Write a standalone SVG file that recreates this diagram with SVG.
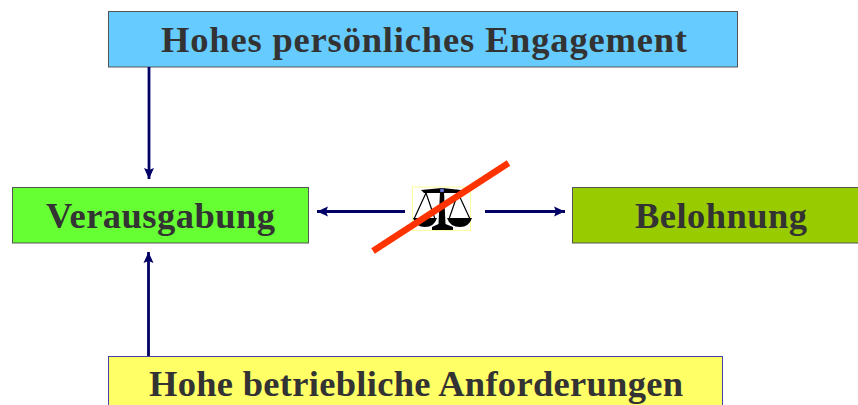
<svg xmlns="http://www.w3.org/2000/svg" width="858" height="405" viewBox="0 0 858 405">
<style>
.box{stroke:#555;stroke-width:1}
.t{font-family:"Liberation Serif",serif;font-weight:bold;font-size:36.500px;fill:#333}
.c{stroke:#000066;stroke-width:2.800;fill:none}
</style>
<defs>
<marker id="a" markerUnits="userSpaceOnUse" markerWidth="13" markerHeight="12" refX="11" refY="5.500" orient="auto"><path d="M0 0.500 L11 5.500 L0 10.500 L2 5.500 Z" fill="#000066"/></marker>
</defs>
<rect width="858" height="405" fill="#fff"/>
<g id="node-engagement"><rect class="box" x="108.500" y="11.500" width="629" height="55.500" fill="#66ccff"/><text class="t" x="161" y="51.500" textLength="526" lengthAdjust="spacing">Hohes persönliches Engagement</text></g>
<g id="node-verausgabung"><rect class="box" x="12.500" y="187.500" width="296" height="55.500" fill="#66ff33"/><text class="t" x="46" y="227.500" textLength="229" lengthAdjust="spacing">Verausgabung</text></g>
<g id="node-belohnung"><rect class="box" x="572.500" y="187.500" width="290" height="55.500" fill="#99cc00"/><text class="t" x="635" y="227.500" textLength="172" lengthAdjust="spacing">Belohnung</text></g>
<g id="node-anforderungen"><rect x="108.500" y="356.500" width="614" height="60" fill="#ffff66" stroke="#4444aa"/><text class="t" x="149" y="396" textLength="534" lengthAdjust="spacing">Hohe betriebliche Anforderungen</text></g>
<g id="connectors">
<path class="c" marker-end="url(#a)" d="M149 67 V179"/>
<path class="c" marker-end="url(#a)" d="M148.500 356 V252"/>
<path class="c" marker-end="url(#a)" d="M405 211.500 H317"/>
<path class="c" marker-end="url(#a)" d="M485 211.500 H565"/>
</g>
<g id="node-waage">
<rect x="412.500" y="187" width="58" height="43.500" fill="#fff" stroke="#ffff99"/>
<path d="M421 190 L442 188 L461 190 L459 193 L424 193 Z" fill="#000"/>
<circle cx="442" cy="190.500" r="2" fill="#6677dd"/>
<path d="M440 192 H444 L445.500 224 L453 227 V230 H432 V227 L438.500 224 Z" fill="#000"/>
<path d="M426 193 L414 219 M426 193 L435 219 M458 193 L449 219 M458 193 L470 219" stroke="#000" stroke-width="1.200" fill="none"/>
<path d="M413 218 H437 Q434 227 425 227 Q416 227 413 218 Z M447 218 H472 Q469 227 460 227 Q450 227 447 218 Z" fill="#000"/>
</g>
<path id="strike" d="M373 251 L508.500 163" stroke="#ff3300" stroke-width="6.500" fill="none"/>
</svg>
